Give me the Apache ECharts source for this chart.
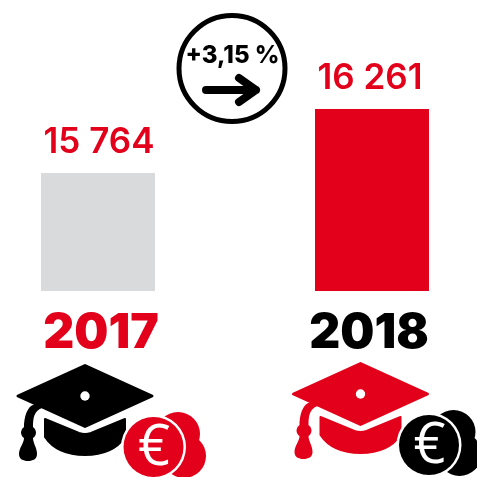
<!DOCTYPE html>
<html><head><meta charset="utf-8">
<style>html,body{margin:0;padding:0;background:#fff}#c{width:477px;height:477px}</style>
<script src="https://cdn.jsdelivr.net/npm/echarts@6/dist/echarts.min.js"></script>
</head><body><div id="c"></div>
<script>
const categories = ['2017', '2018'];
const values = [15764, 16261];
const changeLabel = '+3,15 %';
const RED = '#e2001a', GRAY = '#d9dadb', BLACK = '#000';
const barColors = [GRAY, RED];
const yearColors = [RED, BLACK];
const yearPadding = [[0,0,0,6],[0,6,0,0]];
const labelOffsets = [[1,0],[-2,0]];
const FONT = 'Inter, "Noto Sans", sans-serif';

const fmt = v => String(v).replace(/\B(?=(\d{3})+$)/g, ' ');

const reg = (name, d) => echarts.graphic.registerShape(name, echarts.graphic.extendPath(d, {}));
reg('hatTop', 'M85,365.5 L152,396 L85,426.5 L18,396 Z');
reg('tassel', 'M42,408 C34,411 33,418 33,427 Q36,429 36,432 Q36,436 33,438 C33,443 37,448 37,454 C37,459 33,461 28,461 C23,461 19,459 19,454 C19,448 24,443 24,438 Q21,436 21,432 Q21,429 24,427 L24,424 C25,412 29,405 36,404 Z');
reg('hatBase', 'M45,419 L79,433 Q85,435 91,433 L125,419 L125,437 Q113,455 85,455 Q57,455 45,437 Z');
reg('arrow', 'M206,90 L256,90 M239,78 L256,90 L239,102');

function icon(dx, dy, hatColor, coinColor) {
  const at = o => Object.assign(o, {x: dx, y: dy});
  const fill = {fill: hatColor, stroke: hatColor, lineWidth: 3, lineJoin: 'round'};
  const coin = {fill: coinColor};
  const white = {fill: '#fff'};
  return [
    at({type:'hatTop', style:fill}),
    at({type:'circle', shape:{cx:85,cy:396,r:4.7}, style:white}),
    at({type:'tassel', style:{fill:hatColor}}),
    at({type:'hatBase', style:{fill:hatColor, stroke:hatColor, lineWidth:2, lineJoin:'round'}}),
    at({type:'circle', shape:{cx:178,cy:434,r:22}, style:coin}),
    at({type:'circle', shape:{cx:184,cy:456,r:22}, style:coin}),
    at({type:'circle', shape:{cx:153.5,cy:447,r:32.5}, style:white}),
    at({type:'circle', shape:{cx:153.5,cy:447,r:30}, style:coin}),
    at({type:'text', style:{text:'€', x:154, y:449, fill:'#fff', font:'500 56px "Open Sans", sans-serif', textAlign:'center', textVerticalAlign:'middle'}})
  ];
}

const chart = echarts.init(document.getElementById('c'), null, {renderer:'canvas'});
chart.setOption({
  animation: false,
  grid: {left: -39, width: 548, top: 109, height: 182, outerBoundsMode: 'none'},
  xAxis: {
    type: 'category',
    data: categories.map((c, i) => ({value: c, textStyle: {color: yearColors[i], padding: yearPadding[i]}})),
    axisLine: {show:false}, axisTick: {show:false}, splitLine:{show:false},
    axisLabel: {
      interval: 0, margin: 19, fontFamily: 'Inter, sans-serif',
      fontWeight: 900, fontSize: 48
    }
  },
  yAxis: {type:'value', min:14848, max:16261, show:false},
  series: [{
    type: 'bar', barWidth: 114,
    data: values.map((v, i) => ({value: v, itemStyle: {color: barColors[i]}, label: {offset: labelOffsets[i]}})),
    label: {
      show: true, position: 'top', distance: 13, color: RED,
      fontFamily: FONT, fontSize: 35, fontWeight: 600,
      formatter: p => fmt(p.value)
    }
  }],
  graphic: {elements: [
    {type:'circle', shape:{cx:232,cy:68.5,r:53}, style:{fill:'#fff', stroke:BLACK, lineWidth:5}},
    {type:'text', style:{text:changeLabel, x:232.5, y:56, fill:BLACK, font:'800 24px Inter, sans-serif', textAlign:'center', textVerticalAlign:'middle'}},
    {type:'arrow', style:{fill:'none', stroke:BLACK, lineWidth:8, lineCap:'round', lineJoin:'round'}},
    ...icon(0, 0, BLACK, RED),
    ...icon(275.5, -2, RED, BLACK)
  ]}
});
</script></body></html>
